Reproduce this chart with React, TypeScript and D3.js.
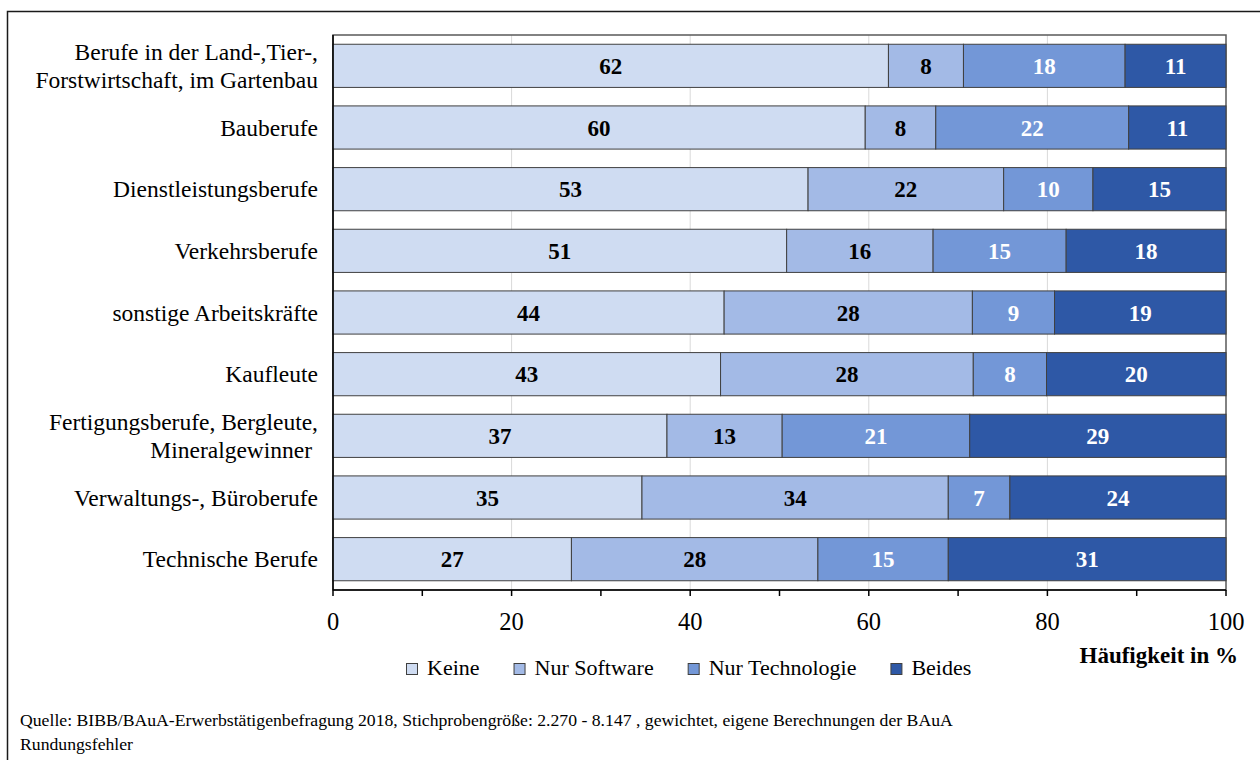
import React, { useEffect, useRef } from "react";
import * as d3 from "d3";

// Occupation groups (top to bottom); "\n" splits a label onto two lines
const categories = [
  "Berufe in der Land-,Tier-,\nForstwirtschaft, im Gartenbau",
  "Bauberufe",
  "Dienstleistungsberufe",
  "Verkehrsberufe",
  "sonstige Arbeitskräfte",
  "Kaufleute",
  "Fertigungsberufe, Bergleute,\nMineralgewinner ",
  "Verwaltungs-, Büroberufe",
  "Technische Berufe",
];

// Shares in % per group
const keine = [62.2, 59.6, 53.2, 50.8, 43.8, 43.4, 37.4, 34.6, 26.7];
const nurSoftware = [8.4, 7.9, 21.9, 16.4, 27.8, 28.3, 12.9, 34.3, 27.6];
const nurTechnologie = [18.1, 21.6, 10.0, 14.9, 9.2, 8.2, 21.0, 6.9, 14.6];
const beides = [11.3, 10.9, 14.9, 17.9, 19.2, 20.1, 28.7, 24.2, 31.1];

const seriesNames = ["Keine", "Nur Software", "Nur Technologie", "Beides"];
const seriesColors = ["#cfdcf2", "#a3bae6", "#7397d7", "#2e58a6"];
const labelColors = ["#000000", "#000000", "#ffffff", "#ffffff"];

const xTicks = [0, 20, 40, 60, 80, 100];
const xMinorTicks = [0, 10, 20, 30, 40, 50, 60, 70, 80, 90, 100];
const xAxisTitle = "Häufigkeit in %";
const sourceLines = [
  "Quelle: BIBB/BAuA-Erwerbstätigenbefragung 2018, Stichprobengröße: 2.270 - 8.147 , gewichtet, eigene Berechnungen der BAuA",
  "Rundungsfehler",
];

const FONT = "'Liberation Serif', 'Times New Roman', serif";

export default function App() {
  const ref = useRef<SVGSVGElement>(null);

  useEffect(() => {
    const svg = d3.select(ref.current);
    svg.selectAll("*").remove();

    const W = 1260;
    const H = 760;
    const left = 333;
    const right = 1226;
    const top = 35;
    const bottom = 590;

    // outer frame (runs off the right and bottom edges)
    svg
      .append("rect")
      .attr("x", 7.5)
      .attr("y", 11.5)
      .attr("width", W + 20)
      .attr("height", H + 20)
      .attr("fill", "white")
      .attr("stroke", "#1a1a1a")
      .attr("stroke-width", 1.5);

    const x = d3.scaleLinear().domain([0, 100]).range([left, right]);
    const y = d3
      .scaleBand<string>()
      .domain(categories)
      .range([top, bottom])
      .paddingInner(0.3)
      .paddingOuter(0.15);

    const g = svg.append("g");

    // gridlines
    g.selectAll("line.grid")
      .data(xTicks.filter((t) => t > 0 && t < 100))
      .join("line")
      .attr("class", "grid")
      .attr("x1", (d) => x(d))
      .attr("x2", (d) => x(d))
      .attr("y1", top)
      .attr("y2", bottom)
      .attr("stroke", "#d9d9d9")
      .attr("stroke-width", 1);

    // plot area border
    g.append("rect")
      .attr("x", left)
      .attr("y", top)
      .attr("width", right - left)
      .attr("height", bottom - top)
      .attr("fill", "none")
      .attr("stroke", "#595959")
      .attr("stroke-width", 1.5);

    // stacked data
    const rows = categories.map((c, i) => ({
      cat: c,
      Keine: keine[i],
      "Nur Software": nurSoftware[i],
      "Nur Technologie": nurTechnologie[i],
      Beides: beides[i],
    }));
    const stack = d3.stack<any>().keys(seriesNames)(rows);

    stack.forEach((layer, si) => {
      const lg = g.append("g");
      lg.selectAll("rect")
        .data(layer)
        .join("rect")
        .attr("x", (d) => x(d[0]))
        .attr("y", (d) => y(d.data.cat)!)
        .attr("width", (d) => x(d[1]) - x(d[0]))
        .attr("height", y.bandwidth())
        .attr("fill", seriesColors[si])
        .attr("stroke", "#404040")
        .attr("stroke-width", 1);
      lg.selectAll("text")
        .data(layer)
        .join("text")
        .attr("x", (d) => (x(d[0]) + x(d[1])) / 2)
        .attr("y", (d) => y(d.data.cat)! + y.bandwidth() / 2)
        .attr("dy", "0.35em")
        .attr("text-anchor", "middle")
        .attr("font-family", FONT)
        .attr("font-weight", "bold")
        .attr("font-size", 23)
        .attr("fill", labelColors[si])
        .text((d) => d3.format(".0f")(d[1] - d[0]));
    });

    // left axis line
    g.append("line")
      .attr("x1", left)
      .attr("x2", left)
      .attr("y1", top)
      .attr("y2", bottom)
      .attr("stroke", "#000")
      .attr("stroke-width", 1.5);

    // bottom axis
    g.append("line")
      .attr("x1", left)
      .attr("x2", right)
      .attr("y1", bottom)
      .attr("y2", bottom)
      .attr("stroke", "#000")
      .attr("stroke-width", 1.5);
    g.selectAll("line.tick")
      .data(xMinorTicks)
      .join("line")
      .attr("class", "tick")
      .attr("x1", (d) => x(d))
      .attr("x2", (d) => x(d))
      .attr("y1", bottom)
      .attr("y2", bottom + 6)
      .attr("stroke", "#000")
      .attr("stroke-width", 1.5);
    g.selectAll("text.ticklabel")
      .data(xTicks)
      .join("text")
      .attr("class", "ticklabel")
      .attr("x", (d) => x(d))
      .attr("y", 630)
      .attr("text-anchor", "middle")
      .attr("font-family", FONT)
      .attr("font-size", 24.5)
      .attr("fill", "#000")
      .text((d) => String(d));

    // category labels
    categories.forEach((c) => {
      const lines = c.split("\n");
      const cy = y(c)! + y.bandwidth() / 2;
      const lh = 28;
      const t = g
        .append("text")
        .attr("text-anchor", "end")
        .attr("font-family", FONT)
        .attr("font-size", 23.5)
        .attr("fill", "#000")
        .attr("xml:space", "preserve")
        .style("white-space", "pre");
      lines.forEach((ln, li) => {
        t.append("tspan")
          .attr("x", 318)
          .attr("y", cy + (li - (lines.length - 1) / 2) * lh)
          .attr("dy", "0.35em")
          .text(ln);
      });
    });

    // x axis title
    g.append("text")
      .attr("x", 1238)
      .attr("y", 663)
      .attr("text-anchor", "end")
      .attr("font-family", FONT)
      .attr("font-weight", "bold")
      .attr("font-size", 23)
      .attr("fill", "#000")
      .text(xAxisTitle);

    // legend
    let lx = 406;
    seriesNames.forEach((name, i) => {
      g.append("rect")
        .attr("x", lx + 0.5)
        .attr("y", 663.5)
        .attr("width", 11)
        .attr("height", 11)
        .attr("fill", seriesColors[i])
        .attr("stroke", "#404040")
        .attr("stroke-width", 1);
      const t = g
        .append("text")
        .attr("x", lx + 21)
        .attr("y", 675)
        .attr("font-family", FONT)
        .attr("font-size", 22)
        .attr("fill", "#000")
        .text(name);
      const w = (t.node() as SVGTextElement).getComputedTextLength();
      lx += 21 + w + 34;
    });

    // source note
    sourceLines.forEach((s, i) => {
      g.append("text")
        .attr("x", 20)
        .attr("y", 726 + i * 24)
        .attr("font-family", FONT)
        .attr("font-size", 17.7)
        .attr("fill", "#000")
        .text(s);
    });
  }, []);

  return (
    <svg
      ref={ref}
      width={1260}
      height={760}
      style={{ position: "absolute", left: 0, top: 0, background: "white" }}
    />
  );
}
